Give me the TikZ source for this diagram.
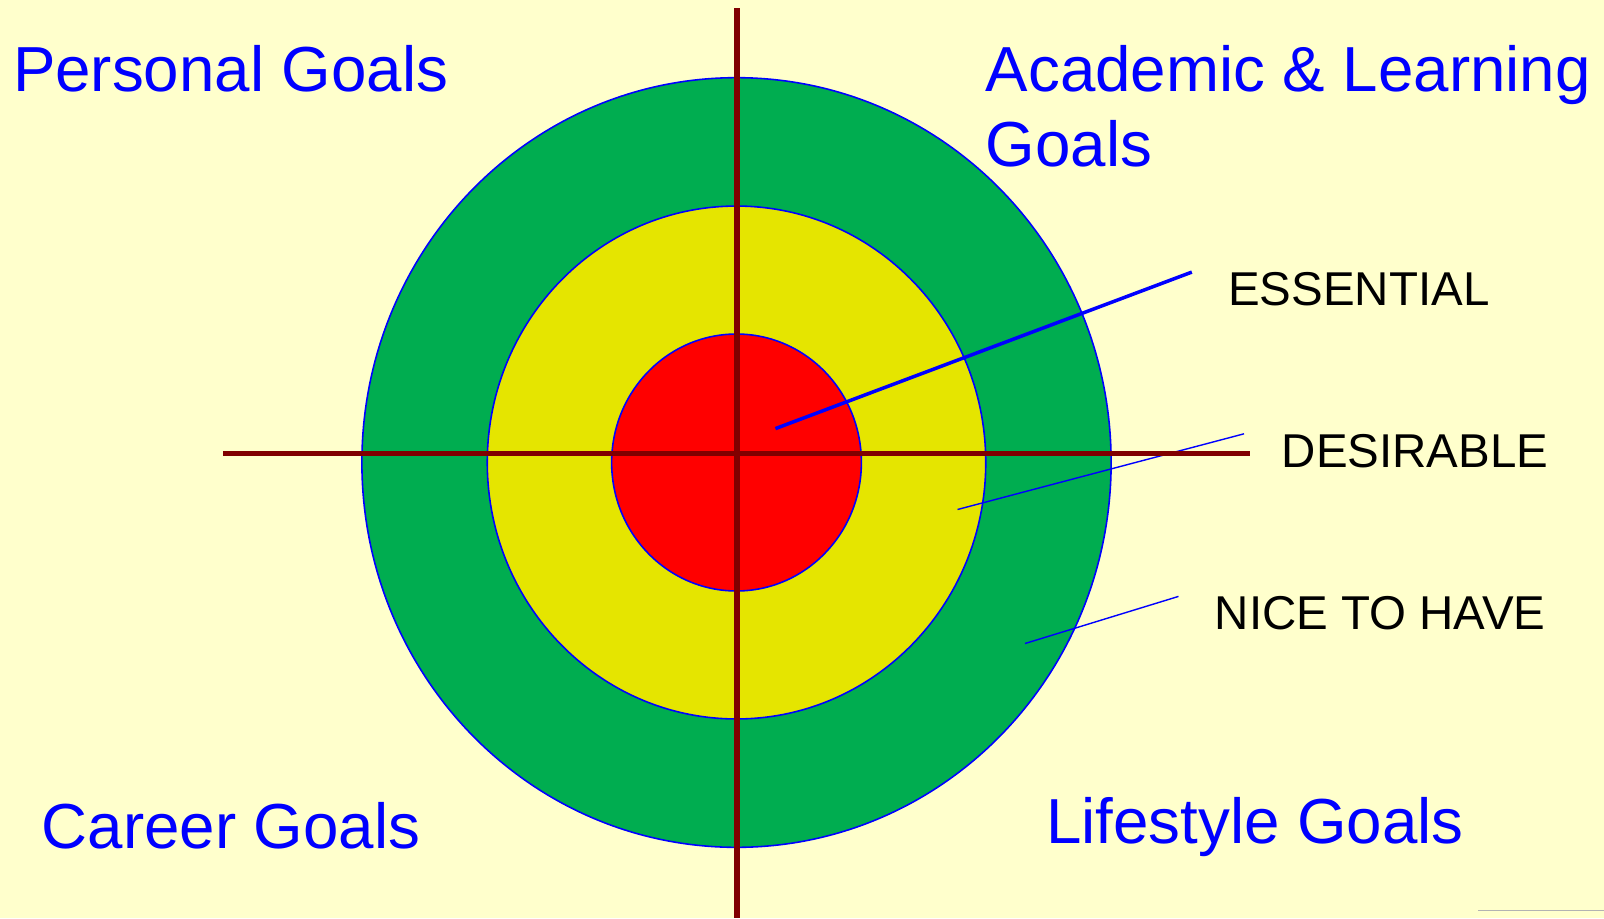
\documentclass[tikz,border=0pt]{standalone}
\usepackage{fontspec}
\setmainfont{Liberation Sans}
\definecolor{paper}{RGB}{255,255,204}
\definecolor{goalblue}{RGB}{0,0,255}
\definecolor{outergreen}{RGB}{0,173,80}
\definecolor{middleyellow}{RGB}{229,229,0}
\definecolor{innerred}{RGB}{255,0,0}
\definecolor{crossred}{RGB}{128,0,0}

\begin{document}
\begin{tikzpicture}[x=0.01cm,y=-0.01cm,
  goal/.style={text=goalblue,font=\fontsize{18.1}{21.25}\selectfont,inner sep=0,anchor=base west},
  zone/.style={font=\fontsize{13.5}{16}\selectfont,inner sep=0,anchor=base west},
  ring/.style={draw=goalblue,line width=0.45pt},
  pointer/.style={goalblue,line width=0.4pt}]
  \useasboundingbox (0,0) rectangle (1604,918);
  \fill[paper](0,0) rectangle (1604,918);
  % target rings
  \coordinate (centre) at (736.5,462.5);
  \draw[ring,fill=outergreen](centre) ellipse[x radius=3.744cm,y radius=3.846cm];
  \draw[ring,fill=middleyellow](centre) ellipse[x radius=2.491cm,y radius=2.563cm];
  \draw[ring,fill=innerred](centre) ellipse[x radius=1.248cm,y radius=1.284cm];
  % ring labels
  \node[zone] (essential) at (1227.6,305){ESSENTIAL};
  \node[zone] (desirable) at (1281,467.5){DESIRABLE};
  \node[zone] (nicetohave) at (1214,629){NICE TO HAVE};
  \coordinate (essential-tip) at (775.4,428.6);\coordinate (essential-end) at (1191.8,272.1);
  \coordinate (desirable-tip) at (957.5,509.5);\coordinate (desirable-end) at (1244,433.8);
  \coordinate (nicetohave-tip) at (1025,643.5);\coordinate (nicetohave-end) at (1178.5,596.4);
  \draw[pointer,line width=1pt](essential-tip)--(essential-end);
  \draw[pointer](desirable-tip)--(desirable-end);
  \draw[pointer](nicetohave-tip)--(nicetohave-end);
  % cross hairs
  \draw[crossred,line width=1.7pt](736.5,8.2)--(736.5,918);
  \draw[crossred,line width=1.7pt](223,453.5)--(1250,453.5);
  % quadrant goals (base of a two-line node is its last line)
  \node[goal] (personal) at (12.3,91){Personal Goals};
  \node[goal,align=left] (academic) at (985,166.7){Academic \& Learning\\Goals};
  \node[goal] (career) at (41,848){Career Goals};
  \node[goal] (lifestyle) at (1045.5,843){Lifestyle Goals};
  \draw[gray!60,line width=0.3pt](1478,910.7)--(1604,910.7);
\end{tikzpicture}
\end{document}
